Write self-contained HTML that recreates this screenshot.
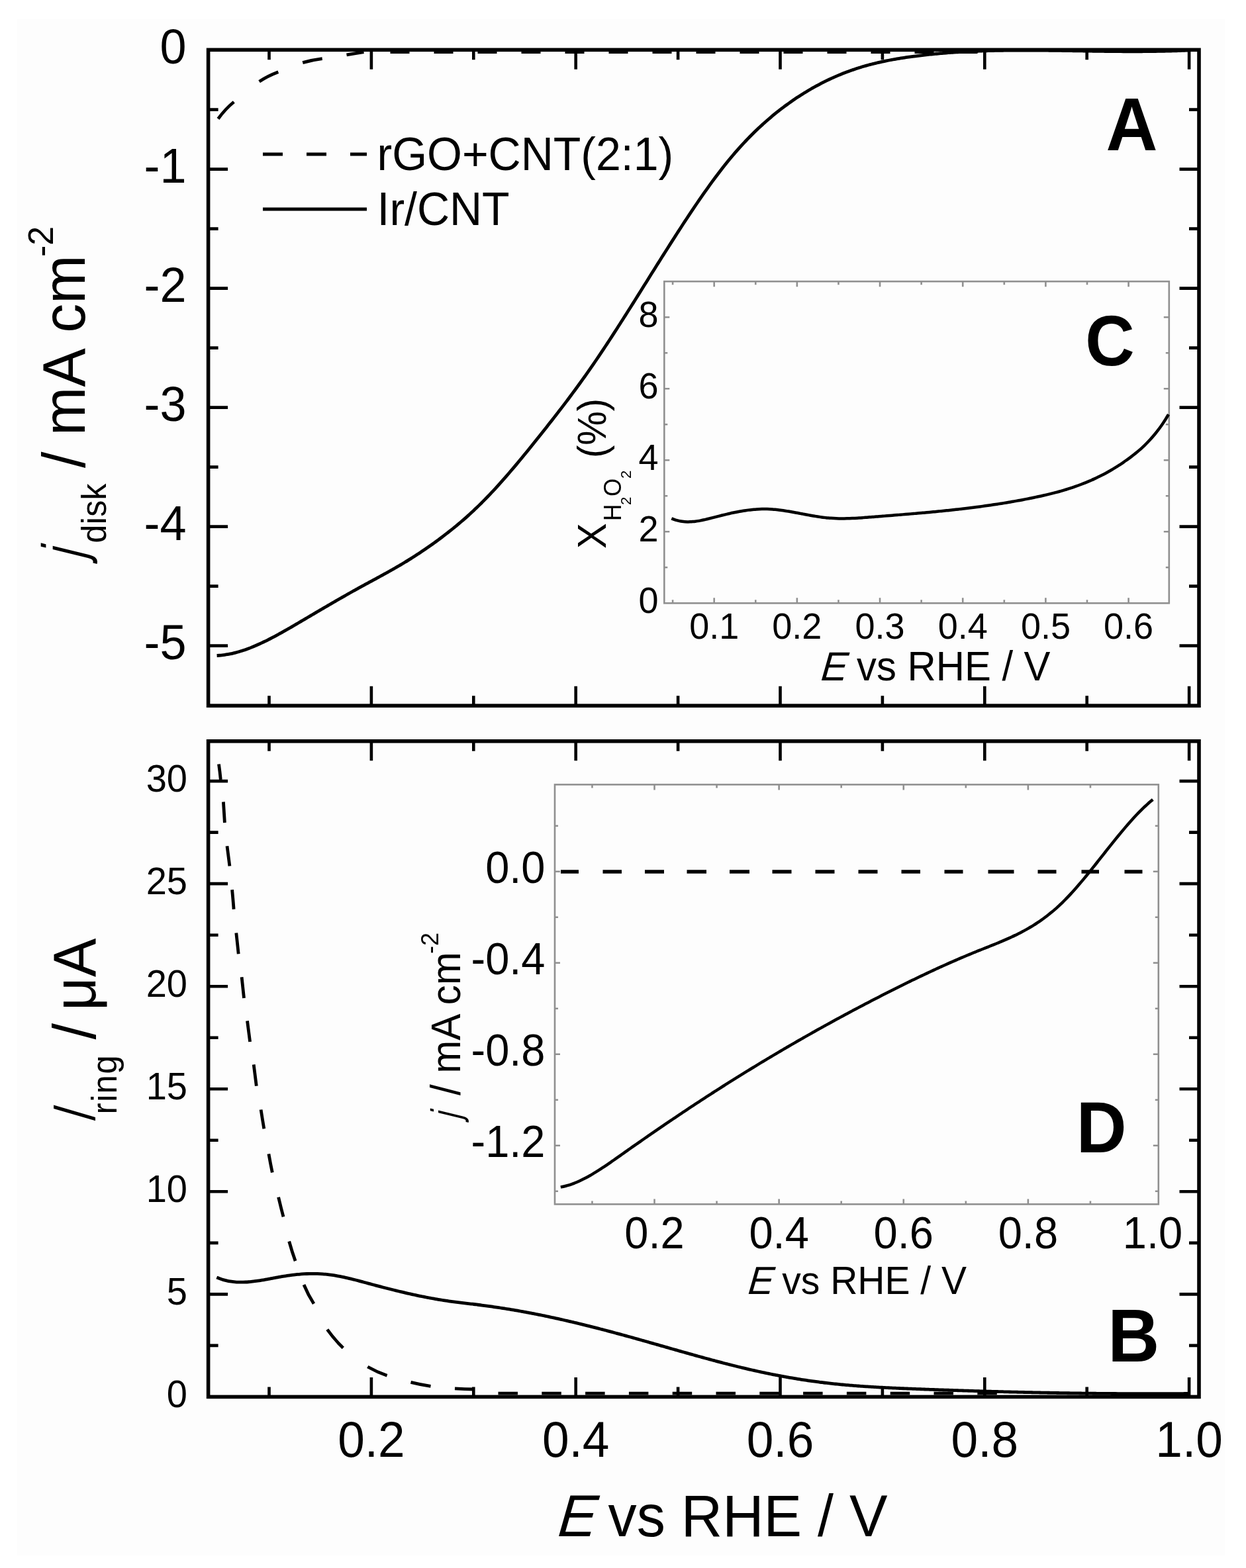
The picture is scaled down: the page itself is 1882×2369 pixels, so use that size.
<!DOCTYPE html>
<html><head><meta charset="utf-8"><title>Figure</title>
<style>
html,body{margin:0;padding:0;background:#fff;}
svg{display:block;}
text{font-family:'Liberation Sans', Arial, sans-serif;fill:#000;}
</style></head>
<body>
<svg xmlns="http://www.w3.org/2000/svg" width="1882" height="2369" viewBox="0 0 1882 2369">
<rect x="0" y="0" width="1882" height="2369" fill="#fff"/>
<rect x="26" y="29" width="1824" height="2321" fill="#fdfdfd"/>
<path d="M406.5,1066.2v-15M406.5,75.3v15M560.9,1066.2v-29.5M560.9,75.3v29.5M715.3,1066.2v-15M715.3,75.3v15M869.7,1066.2v-29.5M869.7,75.3v29.5M1024.1,1066.2v-15M1024.1,75.3v15M1178.5,1066.2v-29.5M1178.5,75.3v29.5M1332.9,1066.2v-15M1332.9,75.3v15M1487.3,1066.2v-29.5M1487.3,75.3v29.5M1641.7,1066.2v-15M1641.7,75.3v15M1796.1,1066.2v-29.5M1796.1,75.3v29.5M314.6,75.6h29.5M1811,75.6h-29.5M314.6,255.6h29.5M1811,255.6h-29.5M314.6,435.6h29.5M1811,435.6h-29.5M314.6,615.6h29.5M1811,615.6h-29.5M314.6,795.6h29.5M1811,795.6h-29.5M314.6,975.6h29.5M1811,975.6h-29.5M314.6,165.6h15M1811,165.6h-15M314.6,345.6h15M1811,345.6h-15M314.6,525.6h15M1811,525.6h-15M314.6,705.6h15M1811,705.6h-15M314.6,885.6h15M1811,885.6h-15" stroke="#000" stroke-width="4.6" fill="none"/>
<rect x="314.6" y="75.3" width="1496.4" height="990.9" fill="none" stroke="#000" stroke-width="5.6" stroke-linejoin="miter"/>
<path d="M406.5,2110.4v-15M406.5,1119.8v15M560.9,2110.4v-29.5M560.9,1119.8v29.5M715.3,2110.4v-15M715.3,1119.8v15M869.7,2110.4v-29.5M869.7,1119.8v29.5M1024.1,2110.4v-15M1024.1,1119.8v15M1178.5,2110.4v-29.5M1178.5,1119.8v29.5M1332.9,2110.4v-15M1332.9,1119.8v15M1487.3,2110.4v-29.5M1487.3,1119.8v29.5M1641.7,2110.4v-15M1641.7,1119.8v15M1796.1,2110.4v-29.5M1796.1,1119.8v29.5M314.6,1955.35h29.5M1811,1955.35h-29.5M314.6,1800.3h29.5M1811,1800.3h-29.5M314.6,1645.25h29.5M1811,1645.25h-29.5M314.6,1490.2h29.5M1811,1490.2h-29.5M314.6,1335.15h29.5M1811,1335.15h-29.5M314.6,1180.1h29.5M1811,1180.1h-29.5M314.6,2032.88h15M1811,2032.88h-15M314.6,1877.83h15M1811,1877.83h-15M314.6,1722.78h15M1811,1722.78h-15M314.6,1567.72h15M1811,1567.72h-15M314.6,1412.68h15M1811,1412.68h-15M314.6,1257.62h15M1811,1257.62h-15" stroke="#000" stroke-width="4.6" fill="none"/>
<rect x="314.6" y="1119.8" width="1496.4" height="990.6" fill="none" stroke="#000" stroke-width="5.6" stroke-linejoin="miter"/>
<rect x="1003.3" y="425.2" width="762.5" height="486.1" fill="#fdfdfd" stroke="#909090" stroke-width="2.6"/>
<path d="M1016.09,911.3v-5M1016.09,425.2v5M1078.68,911.3v-8M1078.68,425.2v8M1141.27,911.3v-5M1141.27,425.2v5M1203.86,911.3v-8M1203.86,425.2v8M1266.45,911.3v-5M1266.45,425.2v5M1329.04,911.3v-8M1329.04,425.2v8M1391.63,911.3v-5M1391.63,425.2v5M1454.22,911.3v-8M1454.22,425.2v8M1516.81,911.3v-5M1516.81,425.2v5M1579.4,911.3v-8M1579.4,425.2v8M1641.99,911.3v-5M1641.99,425.2v5M1704.58,911.3v-8M1704.58,425.2v8M1003.3,857.3h5M1765.8,857.3h-5M1003.3,803.3h8M1765.8,803.3h-8M1003.3,749.3h5M1765.8,749.3h-5M1003.3,695.3h8M1765.8,695.3h-8M1003.3,641.3h5M1765.8,641.3h-5M1003.3,587.3h8M1765.8,587.3h-8M1003.3,533.3h5M1765.8,533.3h-5M1003.3,479.3h8M1765.8,479.3h-8" stroke="#909090" stroke-width="2.6" fill="none"/>
<rect x="838" y="1185.4" width="911.8" height="634" fill="#fdfdfd" stroke="#909090" stroke-width="2.6"/>
<path d="M894.46,1819.4v-5M894.46,1185.4v5M988.52,1819.4v-8M988.52,1185.4v8M1082.58,1819.4v-5M1082.58,1185.4v5M1176.64,1819.4v-8M1176.64,1185.4v8M1270.7,1819.4v-5M1270.7,1185.4v5M1364.76,1819.4v-8M1364.76,1185.4v8M1458.82,1819.4v-5M1458.82,1185.4v5M1552.88,1819.4v-8M1552.88,1185.4v8M1646.94,1819.4v-5M1646.94,1185.4v5M838,1799.8h5M1749.8,1799.8h-5M838,1730.8h8M1749.8,1730.8h-8M838,1661.8h5M1749.8,1661.8h-5M838,1592.8h8M1749.8,1592.8h-8M838,1523.8h5M1749.8,1523.8h-5M838,1454.8h8M1749.8,1454.8h-8M838,1385.8h5M1749.8,1385.8h-5M838,1316.8h8M1749.8,1316.8h-8M838,1247.8h5M1749.8,1247.8h-5" stroke="#909090" stroke-width="2.6" fill="none"/>
<path d="M327.6,990.51 C328.27,990.47 330.27,990.36 331.6,990.25 C332.94,990.14 334.27,990.01 335.61,989.86 C336.94,989.71 338.28,989.53 339.61,989.34 C340.95,989.15 342.28,988.93 343.62,988.7 C344.95,988.47 346.28,988.21 347.62,987.94 C348.95,987.67 350.29,987.38 351.62,987.07 C352.96,986.76 354.29,986.43 355.63,986.09 C356.96,985.74 358.3,985.38 359.63,985 C360.97,984.62 362.3,984.22 363.63,983.81 C364.97,983.4 366.3,982.97 367.64,982.52 C368.97,982.08 370.31,981.62 371.64,981.15 C372.98,980.67 374.31,980.18 375.65,979.68 C376.98,979.17 378.31,978.66 379.65,978.12 C380.98,977.59 382.32,977.05 383.65,976.49 C384.99,975.93 386.32,975.36 387.66,974.78 C388.99,974.2 390.33,973.61 391.66,973 C393,972.4 394.33,971.78 395.66,971.15 C397,970.53 398.33,969.89 399.67,969.24 C401,968.59 402.34,967.94 403.67,967.27 C405.01,966.6 406.34,965.93 407.68,965.24 C409.01,964.56 410.35,963.87 411.68,963.17 C413.01,962.47 414.35,961.76 415.68,961.04 C417.02,960.33 418.35,959.61 419.69,958.88 C421.02,958.15 422.36,957.42 423.69,956.67 C425.03,955.93 426.36,955.19 427.7,954.44 C429.03,953.69 430.36,952.93 431.7,952.17 C433.03,951.41 434.37,950.64 435.7,949.88 C437.04,949.11 438.37,948.34 439.71,947.56 C441.04,946.79 442.38,946.01 443.71,945.23 C445.05,944.45 446.38,943.67 447.71,942.89 C449.05,942.11 450.38,941.32 451.72,940.54 C453.05,939.75 454.39,938.96 455.72,938.18 C457.06,937.39 458.39,936.61 459.73,935.82 C461.06,935.03 462.4,934.25 463.73,933.46 C465.06,932.67 466.4,931.89 467.73,931.1 C469.07,930.31 470.4,929.53 471.74,928.74 C473.07,927.96 474.41,927.17 475.74,926.39 C477.08,925.6 478.41,924.82 479.74,924.03 C481.08,923.25 482.41,922.46 483.75,921.68 C485.08,920.9 486.42,920.11 487.75,919.33 C489.09,918.55 490.42,917.77 491.76,916.99 C493.09,916.21 494.43,915.43 495.76,914.65 C497.09,913.88 498.43,913.1 499.76,912.32 C501.1,911.55 502.43,910.77 503.77,910 C505.1,909.23 506.44,908.46 507.77,907.69 C509.11,906.92 510.44,906.15 511.78,905.38 C513.11,904.61 514.44,903.85 515.78,903.09 C517.11,902.32 518.45,901.56 519.78,900.8 C521.12,900.04 522.45,899.28 523.79,898.53 C525.12,897.77 526.46,897.02 527.79,896.26 C529.13,895.51 530.46,894.76 531.79,894.02 C533.13,893.27 534.46,892.52 535.8,891.78 C537.13,891.04 538.47,890.3 539.8,889.56 C541.14,888.82 542.47,888.09 543.81,887.36 C545.14,886.62 546.48,885.89 547.81,885.16 C549.14,884.43 550.48,883.71 551.81,882.98 C553.15,882.25 554.48,881.53 555.82,880.8 C557.15,880.08 558.49,879.35 559.82,878.63 C561.16,877.9 562.49,877.18 563.83,876.46 C565.16,875.73 566.49,875.01 567.83,874.28 C569.16,873.55 570.5,872.83 571.83,872.1 C573.17,871.37 574.5,870.64 575.84,869.91 C577.17,869.18 578.51,868.44 579.84,867.71 C581.17,866.97 582.51,866.23 583.84,865.49 C585.18,864.75 586.51,864 587.85,863.25 C589.18,862.5 590.52,861.75 591.85,861 C593.19,860.24 594.52,859.48 595.86,858.72 C597.19,857.95 598.52,857.18 599.86,856.41 C601.19,855.63 602.53,854.85 603.86,854.07 C605.2,853.29 606.53,852.5 607.87,851.7 C609.2,850.9 610.54,850.1 611.87,849.29 C613.21,848.48 614.54,847.67 615.87,846.84 C617.21,846.02 618.54,845.19 619.88,844.36 C621.21,843.52 622.55,842.68 623.88,841.83 C625.22,840.99 626.55,840.13 627.89,839.27 C629.22,838.41 630.56,837.54 631.89,836.66 C633.22,835.79 634.56,834.91 635.89,834.02 C637.23,833.13 638.56,832.23 639.9,831.33 C641.23,830.42 642.57,829.51 643.9,828.59 C645.24,827.67 646.57,826.75 647.91,825.82 C649.24,824.88 650.57,823.94 651.91,823 C653.24,822.05 654.58,821.09 655.91,820.13 C657.25,819.17 658.58,818.2 659.92,817.22 C661.25,816.24 662.59,815.25 663.92,814.26 C665.26,813.27 666.59,812.26 667.92,811.25 C669.26,810.24 670.59,809.23 671.93,808.2 C673.26,807.18 674.6,806.14 675.93,805.1 C677.27,804.06 678.6,803.01 679.94,801.95 C681.27,800.89 682.6,799.82 683.94,798.75 C685.27,797.67 686.61,796.58 687.94,795.49 C689.28,794.39 690.61,793.29 691.95,792.17 C693.28,791.05 694.62,789.93 695.95,788.79 C697.29,787.65 698.62,786.51 699.95,785.35 C701.29,784.19 702.62,783.01 703.96,781.83 C705.29,780.65 706.63,779.45 707.96,778.24 C709.3,777.04 710.63,775.81 711.97,774.58 C713.3,773.35 714.64,772.1 715.97,770.84 C717.3,769.58 718.64,768.31 719.97,767.02 C721.31,765.74 722.64,764.44 723.98,763.13 C725.31,761.82 726.65,760.5 727.98,759.17 C729.32,757.83 730.65,756.49 731.99,755.13 C733.32,753.77 734.65,752.4 735.99,751.02 C737.32,749.64 738.66,748.24 739.99,746.83 C741.33,745.43 742.66,744.01 744,742.58 C745.33,741.15 746.67,739.71 748,738.26 C749.34,736.81 750.67,735.35 752,733.87 C753.34,732.4 754.67,730.92 756.01,729.42 C757.34,727.93 758.68,726.43 760.01,724.91 C761.35,723.4 762.68,721.88 764.02,720.35 C765.35,718.82 766.69,717.28 768.02,715.73 C769.35,714.18 770.69,712.63 772.02,711.06 C773.36,709.5 774.69,707.93 776.03,706.35 C777.36,704.77 778.7,703.18 780.03,701.59 C781.37,700 782.7,698.39 784.03,696.79 C785.37,695.18 786.7,693.57 788.04,691.95 C789.37,690.33 790.71,688.71 792.04,687.08 C793.38,685.45 794.71,683.81 796.05,682.17 C797.38,680.53 798.72,678.89 800.05,677.24 C801.38,675.59 802.72,673.94 804.05,672.28 C805.39,670.62 806.72,668.96 808.06,667.3 C809.39,665.63 810.73,663.96 812.06,662.29 C813.4,660.62 814.73,658.95 816.07,657.27 C817.4,655.6 818.73,653.92 820.07,652.24 C821.4,650.56 822.74,648.87 824.07,647.19 C825.41,645.5 826.74,643.81 828.08,642.11 C829.41,640.42 830.75,638.72 832.08,637.02 C833.42,635.32 834.75,633.61 836.08,631.9 C837.42,630.19 838.75,628.47 840.09,626.75 C841.42,625.03 842.76,623.3 844.09,621.57 C845.43,619.84 846.76,618.1 848.1,616.36 C849.43,614.62 850.77,612.87 852.1,611.11 C853.43,609.36 854.77,607.6 856.1,605.83 C857.44,604.06 858.77,602.29 860.11,600.5 C861.44,598.72 862.78,596.93 864.11,595.14 C865.45,593.34 866.78,591.54 868.11,589.72 C869.45,587.91 870.78,586.09 872.12,584.26 C873.45,582.44 874.79,580.6 876.12,578.75 C877.46,576.91 878.79,575.05 880.13,573.19 C881.46,571.33 882.8,569.45 884.13,567.57 C885.46,565.69 886.8,563.8 888.13,561.89 C889.47,559.99 890.8,558.08 892.14,556.16 C893.47,554.23 894.81,552.3 896.14,550.36 C897.48,548.42 898.81,546.47 900.15,544.51 C901.48,542.54 902.81,540.57 904.15,538.6 C905.48,536.62 906.82,534.63 908.15,532.63 C909.49,530.64 910.82,528.64 912.16,526.62 C913.49,524.61 914.83,522.59 916.16,520.57 C917.5,518.54 918.83,516.51 920.16,514.47 C921.5,512.43 922.83,510.38 924.17,508.33 C925.5,506.28 926.84,504.22 928.17,502.15 C929.51,500.09 930.84,498.02 932.18,495.94 C933.51,493.86 934.85,491.78 936.18,489.7 C937.51,487.61 938.85,485.52 940.18,483.43 C941.52,481.33 942.85,479.23 944.19,477.13 C945.52,475.02 946.86,472.92 948.19,470.81 C949.53,468.7 950.86,466.58 952.2,464.46 C953.53,462.35 954.86,460.23 956.2,458.11 C957.53,455.98 958.87,453.86 960.2,451.73 C961.54,449.61 962.87,447.48 964.21,445.35 C965.54,443.22 966.88,441.09 968.21,438.95 C969.54,436.82 970.88,434.69 972.21,432.55 C973.55,430.42 974.88,428.29 976.22,426.15 C977.55,424.02 978.89,421.88 980.22,419.75 C981.56,417.62 982.89,415.48 984.23,413.35 C985.56,411.22 986.89,409.08 988.23,406.95 C989.56,404.82 990.9,402.7 992.23,400.57 C993.57,398.44 994.9,396.32 996.24,394.19 C997.57,392.07 998.91,389.95 1000.24,387.83 C1001.58,385.72 1002.91,383.6 1004.24,381.49 C1005.58,379.38 1006.91,377.27 1008.25,375.17 C1009.58,373.06 1010.92,370.96 1012.25,368.87 C1013.59,366.77 1014.92,364.68 1016.26,362.59 C1017.59,360.5 1018.93,358.42 1020.26,356.34 C1021.59,354.27 1022.93,352.2 1024.26,350.13 C1025.6,348.06 1026.93,346 1028.27,343.95 C1029.6,341.89 1030.94,339.85 1032.27,337.81 C1033.61,335.76 1034.94,333.73 1036.28,331.7 C1037.61,329.67 1038.94,327.65 1040.28,325.64 C1041.61,323.63 1042.95,321.63 1044.28,319.63 C1045.62,317.63 1046.95,315.65 1048.29,313.67 C1049.62,311.69 1050.96,309.72 1052.29,307.76 C1053.63,305.8 1054.96,303.86 1056.29,301.92 C1057.63,299.98 1058.96,298.05 1060.3,296.13 C1061.63,294.22 1062.97,292.31 1064.3,290.42 C1065.64,288.52 1066.97,286.64 1068.31,284.77 C1069.64,282.9 1070.97,281.04 1072.31,279.2 C1073.64,277.35 1074.98,275.52 1076.31,273.7 C1077.65,271.88 1078.98,270.08 1080.32,268.29 C1081.65,266.5 1082.99,264.72 1084.32,262.96 C1085.66,261.2 1086.99,259.45 1088.32,257.72 C1089.66,255.99 1090.99,254.28 1092.33,252.58 C1093.66,250.88 1095,249.2 1096.33,247.53 C1097.67,245.87 1099,244.22 1100.34,242.58 C1101.67,240.95 1103.01,239.34 1104.34,237.74 C1105.67,236.15 1107.01,234.57 1108.34,233.01 C1109.68,231.45 1111.01,229.9 1112.35,228.38 C1113.68,226.85 1115.02,225.34 1116.35,223.85 C1117.69,222.36 1119.02,220.89 1120.36,219.43 C1121.69,217.97 1123.02,216.53 1124.36,215.11 C1125.69,213.68 1127.03,212.28 1128.36,210.88 C1129.7,209.49 1131.03,208.12 1132.37,206.76 C1133.7,205.4 1135.04,204.05 1136.37,202.73 C1137.71,201.4 1139.04,200.09 1140.37,198.79 C1141.71,197.49 1143.04,196.21 1144.38,194.94 C1145.71,193.68 1147.05,192.43 1148.38,191.19 C1149.72,189.95 1151.05,188.73 1152.39,187.52 C1153.72,186.31 1155.06,185.12 1156.39,183.94 C1157.72,182.76 1159.06,181.6 1160.39,180.45 C1161.73,179.3 1163.06,178.16 1164.4,177.04 C1165.73,175.91 1167.07,174.8 1168.4,173.71 C1169.74,172.61 1171.07,171.52 1172.4,170.45 C1173.74,169.38 1175.07,168.33 1176.41,167.28 C1177.74,166.24 1179.08,165.21 1180.41,164.19 C1181.75,163.17 1183.08,162.16 1184.42,161.16 C1185.75,160.17 1187.09,159.19 1188.42,158.21 C1189.75,157.24 1191.09,156.28 1192.42,155.34 C1193.76,154.39 1195.09,153.45 1196.43,152.53 C1197.76,151.6 1199.1,150.69 1200.43,149.79 C1201.77,148.88 1203.1,147.99 1204.44,147.11 C1205.77,146.23 1207.1,145.36 1208.44,144.5 C1209.77,143.64 1211.11,142.79 1212.44,141.96 C1213.78,141.12 1215.11,140.29 1216.45,139.48 C1217.78,138.66 1219.12,137.86 1220.45,137.06 C1221.79,136.27 1223.12,135.48 1224.45,134.71 C1225.79,133.94 1227.12,133.17 1228.46,132.42 C1229.79,131.67 1231.13,130.93 1232.46,130.19 C1233.8,129.46 1235.13,128.74 1236.47,128.03 C1237.8,127.32 1239.14,126.62 1240.47,125.93 C1241.8,125.24 1243.14,124.56 1244.47,123.89 C1245.81,123.22 1247.14,122.56 1248.48,121.91 C1249.81,121.26 1251.15,120.62 1252.48,119.99 C1253.82,119.36 1255.15,118.74 1256.49,118.13 C1257.82,117.52 1259.15,116.92 1260.49,116.33 C1261.82,115.74 1263.16,115.16 1264.49,114.59 C1265.83,114.02 1267.16,113.46 1268.5,112.91 C1269.83,112.36 1271.17,111.82 1272.5,111.29 C1273.83,110.75 1275.17,110.23 1276.5,109.72 C1277.84,109.21 1279.17,108.7 1280.51,108.21 C1281.84,107.72 1283.18,107.23 1284.51,106.76 C1285.85,106.28 1287.18,105.81 1288.52,105.36 C1289.85,104.9 1291.18,104.45 1292.52,104.01 C1293.85,103.57 1295.19,103.14 1296.52,102.72 C1297.86,102.3 1299.19,101.88 1300.53,101.48 C1301.86,101.07 1303.2,100.67 1304.53,100.29 C1305.87,99.9 1307.2,99.51 1308.53,99.14 C1309.87,98.77 1311.2,98.4 1312.54,98.04 C1313.87,97.68 1315.21,97.33 1316.54,96.99 C1317.88,96.64 1319.21,96.31 1320.55,95.98 C1321.88,95.65 1323.22,95.32 1324.55,95.01 C1325.88,94.69 1327.22,94.38 1328.55,94.08 C1329.89,93.78 1331.22,93.48 1332.56,93.19 C1333.89,92.9 1335.23,92.62 1336.56,92.34 C1337.9,92.06 1339.23,91.79 1340.57,91.52 C1341.9,91.26 1343.23,91 1344.57,90.74 C1345.9,90.49 1347.24,90.24 1348.57,89.99 C1349.91,89.75 1351.24,89.51 1352.58,89.28 C1353.91,89.05 1355.25,88.82 1356.58,88.59 C1357.91,88.37 1359.25,88.15 1360.58,87.94 C1361.92,87.72 1363.25,87.51 1364.59,87.31 C1365.92,87.1 1367.26,86.9 1368.59,86.7 C1369.93,86.51 1371.26,86.32 1372.6,86.13 C1373.93,85.94 1375.26,85.75 1376.6,85.57 C1377.93,85.39 1379.27,85.21 1380.6,85.04 C1381.94,84.86 1383.27,84.69 1384.61,84.52 C1385.94,84.36 1387.28,84.19 1388.61,84.03 C1389.95,83.87 1391.28,83.71 1392.61,83.55 C1393.95,83.4 1395.28,83.24 1396.62,83.09 C1397.95,82.94 1399.29,82.8 1400.62,82.65 C1401.96,82.51 1403.29,82.37 1404.63,82.23 C1405.96,82.09 1407.3,81.96 1408.63,81.82 C1409.96,81.69 1411.3,81.56 1412.63,81.43 C1413.97,81.31 1415.3,81.18 1416.64,81.06 C1417.97,80.94 1419.31,80.82 1420.64,80.7 C1421.98,80.59 1423.31,80.47 1424.65,80.36 C1425.98,80.25 1427.31,80.14 1428.65,80.04 C1429.98,79.93 1431.32,79.83 1432.65,79.73 C1433.99,79.63 1435.32,79.53 1436.66,79.43 C1437.99,79.34 1439.33,79.24 1440.66,79.15 C1442,79.06 1443.33,78.97 1444.66,78.88 C1446,78.8 1447.33,78.71 1448.67,78.63 C1450,78.55 1451.34,78.47 1452.67,78.39 C1454.01,78.32 1455.34,78.24 1456.68,78.17 C1458.01,78.1 1459.34,78.03 1460.68,77.96 C1462.01,77.89 1463.35,77.82 1464.68,77.76 C1466.02,77.69 1467.35,77.63 1468.69,77.57 C1470.02,77.51 1471.36,77.45 1472.69,77.4 C1474.03,77.34 1475.36,77.29 1476.69,77.23 C1478.03,77.18 1479.36,77.13 1480.7,77.08 C1482.03,77.04 1483.37,76.99 1484.7,76.94 C1486.04,76.9 1487.37,76.86 1488.71,76.82 C1490.04,76.77 1491.38,76.73 1492.71,76.7 C1494.04,76.66 1495.38,76.62 1496.71,76.59 C1498.05,76.56 1499.38,76.52 1500.72,76.49 C1502.05,76.46 1503.39,76.43 1504.72,76.4 C1506.06,76.38 1507.39,76.35 1508.73,76.33 C1510.06,76.3 1511.39,76.28 1512.73,76.26 C1514.06,76.24 1515.4,76.22 1516.73,76.2 C1518.07,76.18 1519.4,76.16 1520.74,76.15 C1522.07,76.13 1523.41,76.12 1524.74,76.1 C1526.08,76.09 1527.41,76.08 1528.74,76.07 C1530.08,76.06 1531.41,76.05 1532.75,76.04 C1534.08,76.03 1535.42,76.02 1536.75,76.02 C1538.09,76.01 1539.42,76.01 1540.76,76.01 C1542.09,76 1543.43,76 1544.76,76 C1546.09,76 1547.43,76 1548.76,76 C1550.1,76 1551.43,76 1552.77,76 C1554.1,76.01 1555.44,76.01 1556.77,76.02 C1558.11,76.02 1559.44,76.03 1560.77,76.03 C1562.11,76.04 1563.44,76.05 1564.78,76.06 C1566.11,76.06 1567.45,76.07 1568.78,76.08 C1570.12,76.09 1571.45,76.1 1572.79,76.12 C1574.12,76.13 1575.46,76.14 1576.79,76.15 C1578.12,76.16 1579.46,76.18 1580.79,76.19 C1582.13,76.21 1583.46,76.22 1584.8,76.24 C1586.13,76.25 1587.47,76.27 1588.8,76.28 C1590.14,76.3 1591.47,76.32 1592.81,76.33 C1594.14,76.35 1595.47,76.37 1596.81,76.39 C1598.14,76.41 1599.48,76.42 1600.81,76.44 C1602.15,76.46 1603.48,76.48 1604.82,76.5 C1606.15,76.52 1607.49,76.54 1608.82,76.56 C1610.16,76.58 1611.49,76.6 1612.82,76.62 C1614.16,76.64 1615.49,76.66 1616.83,76.69 C1618.16,76.71 1619.5,76.73 1620.83,76.75 C1622.17,76.77 1623.5,76.79 1624.84,76.81 C1626.17,76.83 1627.51,76.86 1628.84,76.88 C1630.17,76.9 1631.51,76.92 1632.84,76.94 C1634.18,76.96 1635.51,76.99 1636.85,77.01 C1638.18,77.03 1639.52,77.05 1640.85,77.07 C1642.19,77.09 1643.52,77.11 1644.86,77.13 C1646.19,77.15 1647.52,77.17 1648.86,77.19 C1650.19,77.22 1651.53,77.24 1652.86,77.26 C1654.2,77.27 1655.53,77.29 1656.87,77.31 C1658.2,77.33 1659.54,77.35 1660.87,77.37 C1662.2,77.39 1663.54,77.41 1664.87,77.42 C1666.21,77.44 1667.54,77.46 1668.88,77.48 C1670.21,77.49 1671.55,77.51 1672.88,77.52 C1674.22,77.54 1675.55,77.55 1676.89,77.57 C1678.22,77.58 1679.55,77.6 1680.89,77.61 C1682.22,77.62 1683.56,77.64 1684.89,77.65 C1686.23,77.66 1687.56,77.67 1688.9,77.68 C1690.23,77.69 1691.57,77.7 1692.9,77.71 C1694.24,77.72 1695.57,77.73 1696.9,77.73 C1698.24,77.74 1699.57,77.75 1700.91,77.75 C1702.24,77.76 1703.58,77.76 1704.91,77.77 C1706.25,77.77 1707.58,77.77 1708.92,77.77 C1710.25,77.77 1711.59,77.78 1712.92,77.77 C1714.25,77.77 1715.59,77.77 1716.92,77.77 C1718.26,77.77 1719.59,77.76 1720.93,77.76 C1722.26,77.75 1723.6,77.75 1724.93,77.74 C1726.27,77.73 1727.6,77.72 1728.94,77.71 C1730.27,77.7 1731.6,77.69 1732.94,77.68 C1734.27,77.67 1735.61,77.66 1736.94,77.64 C1738.28,77.63 1739.61,77.61 1740.95,77.59 C1742.28,77.57 1743.62,77.55 1744.95,77.53 C1746.29,77.51 1747.62,77.49 1748.95,77.47 C1750.29,77.44 1751.62,77.42 1752.96,77.39 C1754.29,77.36 1755.63,77.34 1756.96,77.31 C1758.3,77.28 1759.63,77.24 1760.97,77.21 C1762.3,77.18 1763.63,77.14 1764.97,77.11 C1766.3,77.07 1767.64,77.03 1768.97,76.99 C1770.31,76.95 1771.64,76.91 1772.98,76.87 C1774.31,76.82 1775.65,76.78 1776.98,76.73 C1778.32,76.68 1779.65,76.63 1780.98,76.58 C1782.32,76.53 1783.65,76.48 1784.99,76.42 C1786.32,76.37 1787.66,76.31 1788.99,76.25 C1790.33,76.19 1791.66,76.13 1793,76.07 C1794.33,76.01 1796.33,75.91 1797,75.87" stroke="#000" stroke-width="4.8" fill="none" stroke-linejoin="round"/>
<path d="M329.5,179.5Q340.6,164.25 353.3,154M391.6,123.3Q404.05,114.95 420.3,108.8M457.2,94.6Q472.05,90.4 486.7,88.6M523.5,82.8Q537.5,80.3 549.5,78.6M589.5,78.5L618.5,78.5M655.5,78.5L684.5,78.5M721.5,78.5L750.5,78.5M787.5,78.5L816.5,78.5M853.5,78.5L882.5,78.5M919.5,78.5L948.5,78.5M985.5,78.5L1014.5,78.5M1051.5,78.5L1080.5,78.5M1117.5,78.5L1146.5,78.5M1183.5,78.5L1212.5,78.5M1249.5,78.5L1278.5,78.5M1315.5,78.5L1344.5,78.5M1381.5,78.5L1410.5,78.5M1447.5,78.5L1476.5,78.5" stroke="#000" stroke-width="4.8" fill="none"/>
<path d="M327.3,1929.94 C327.97,1930.21 329.97,1931.05 331.3,1931.56 C332.64,1932.06 333.97,1932.52 335.31,1932.94 C336.64,1933.37 337.98,1933.76 339.31,1934.11 C340.65,1934.47 341.98,1934.79 343.32,1935.07 C344.65,1935.36 345.99,1935.62 347.32,1935.84 C348.66,1936.06 349.99,1936.26 351.33,1936.42 C352.66,1936.59 354,1936.72 355.33,1936.83 C356.67,1936.95 358,1937.03 359.34,1937.09 C360.67,1937.15 362.01,1937.18 363.34,1937.19 C364.68,1937.21 366.01,1937.2 367.35,1937.17 C368.68,1937.14 370.02,1937.09 371.35,1937.02 C372.69,1936.95 374.02,1936.86 375.36,1936.76 C376.69,1936.66 378.03,1936.54 379.36,1936.4 C380.7,1936.27 382.03,1936.12 383.36,1935.96 C384.7,1935.8 386.03,1935.62 387.37,1935.44 C388.7,1935.26 390.04,1935.06 391.37,1934.86 C392.71,1934.65 394.04,1934.44 395.38,1934.22 C396.71,1934 398.05,1933.77 399.38,1933.53 C400.72,1933.3 402.05,1933.06 403.39,1932.82 C404.72,1932.58 406.06,1932.33 407.39,1932.08 C408.73,1931.83 410.06,1931.58 411.4,1931.33 C412.73,1931.08 414.07,1930.83 415.4,1930.58 C416.74,1930.33 418.07,1930.08 419.41,1929.83 C420.74,1929.59 422.08,1929.35 423.41,1929.11 C424.75,1928.88 426.08,1928.64 427.42,1928.42 C428.75,1928.2 430.09,1927.98 431.42,1927.77 C432.76,1927.56 434.09,1927.36 435.43,1927.16 C436.76,1926.97 438.09,1926.79 439.43,1926.61 C440.76,1926.43 442.1,1926.27 443.43,1926.11 C444.77,1925.95 446.1,1925.8 447.44,1925.66 C448.77,1925.52 450.11,1925.39 451.44,1925.27 C452.78,1925.15 454.11,1925.04 455.45,1924.94 C456.78,1924.84 458.12,1924.75 459.45,1924.68 C460.79,1924.6 462.12,1924.53 463.46,1924.48 C464.79,1924.42 466.13,1924.38 467.46,1924.35 C468.8,1924.32 470.13,1924.3 471.47,1924.29 C472.8,1924.28 474.14,1924.29 475.47,1924.3 C476.81,1924.32 478.14,1924.35 479.48,1924.4 C480.81,1924.44 482.15,1924.5 483.48,1924.57 C484.82,1924.64 486.15,1924.73 487.49,1924.83 C488.82,1924.93 490.16,1925.04 491.49,1925.17 C492.82,1925.3 494.16,1925.44 495.49,1925.6 C496.83,1925.76 498.16,1925.93 499.5,1926.11 C500.83,1926.29 502.17,1926.49 503.5,1926.7 C504.84,1926.91 506.17,1927.13 507.51,1927.36 C508.84,1927.59 510.18,1927.83 511.51,1928.08 C512.85,1928.34 514.18,1928.6 515.52,1928.87 C516.85,1929.14 518.19,1929.42 519.52,1929.71 C520.86,1930 522.19,1930.3 523.53,1930.6 C524.86,1930.91 526.2,1931.22 527.53,1931.54 C528.87,1931.85 530.2,1932.18 531.54,1932.51 C532.87,1932.84 534.21,1933.17 535.54,1933.51 C536.88,1933.85 538.21,1934.2 539.55,1934.54 C540.88,1934.89 542.22,1935.24 543.55,1935.6 C544.89,1935.95 546.22,1936.31 547.55,1936.66 C548.89,1937.02 550.22,1937.38 551.56,1937.74 C552.89,1938.1 554.23,1938.47 555.56,1938.83 C556.9,1939.19 558.23,1939.55 559.57,1939.91 C560.9,1940.27 562.24,1940.63 563.57,1940.99 C564.91,1941.35 566.24,1941.7 567.58,1942.06 C568.91,1942.41 570.25,1942.77 571.58,1943.12 C572.92,1943.47 574.25,1943.82 575.59,1944.17 C576.92,1944.52 578.26,1944.87 579.59,1945.22 C580.93,1945.56 582.26,1945.91 583.6,1946.25 C584.93,1946.59 586.27,1946.93 587.6,1947.27 C588.94,1947.61 590.27,1947.94 591.61,1948.28 C592.94,1948.61 594.28,1948.95 595.61,1949.28 C596.95,1949.61 598.28,1949.93 599.61,1950.26 C600.95,1950.58 602.28,1950.91 603.62,1951.23 C604.95,1951.55 606.29,1951.87 607.62,1952.18 C608.96,1952.5 610.29,1952.81 611.63,1953.12 C612.96,1953.43 614.3,1953.74 615.63,1954.05 C616.97,1954.35 618.3,1954.65 619.64,1954.95 C620.97,1955.25 622.31,1955.55 623.64,1955.84 C624.98,1956.13 626.31,1956.42 627.65,1956.71 C628.98,1957 630.32,1957.28 631.65,1957.56 C632.99,1957.84 634.32,1958.12 635.66,1958.39 C636.99,1958.67 638.33,1958.94 639.66,1959.21 C641,1959.47 642.33,1959.74 643.67,1959.99 C645,1960.25 646.34,1960.51 647.67,1960.76 C649.01,1961.01 650.34,1961.26 651.68,1961.51 C653.01,1961.75 654.34,1961.99 655.68,1962.23 C657.01,1962.47 658.35,1962.7 659.68,1962.93 C661.02,1963.16 662.35,1963.38 663.69,1963.6 C665.02,1963.82 666.36,1964.04 667.69,1964.25 C669.03,1964.46 670.36,1964.67 671.7,1964.87 C673.03,1965.07 674.37,1965.27 675.7,1965.46 C677.04,1965.66 678.37,1965.84 679.71,1966.03 C681.04,1966.21 682.38,1966.39 683.71,1966.57 C685.05,1966.75 686.38,1966.92 687.72,1967.09 C689.05,1967.26 690.39,1967.43 691.72,1967.6 C693.06,1967.76 694.39,1967.93 695.73,1968.09 C697.06,1968.25 698.4,1968.41 699.73,1968.57 C701.07,1968.73 702.4,1968.89 703.74,1969.05 C705.07,1969.21 706.41,1969.37 707.74,1969.53 C709.07,1969.69 710.41,1969.85 711.74,1970.01 C713.08,1970.17 714.41,1970.33 715.75,1970.5 C717.08,1970.66 718.42,1970.82 719.75,1970.99 C721.09,1971.16 722.42,1971.33 723.76,1971.5 C725.09,1971.67 726.43,1971.84 727.76,1972.01 C729.1,1972.19 730.43,1972.37 731.77,1972.55 C733.1,1972.72 734.44,1972.91 735.77,1973.09 C737.11,1973.27 738.44,1973.46 739.78,1973.65 C741.11,1973.83 742.45,1974.02 743.78,1974.21 C745.12,1974.41 746.45,1974.6 747.79,1974.8 C749.12,1974.99 750.46,1975.19 751.79,1975.39 C753.13,1975.59 754.46,1975.79 755.8,1976 C757.13,1976.2 758.47,1976.41 759.8,1976.62 C761.14,1976.83 762.47,1977.04 763.8,1977.25 C765.14,1977.46 766.47,1977.68 767.81,1977.9 C769.14,1978.12 770.48,1978.34 771.81,1978.56 C773.15,1978.78 774.48,1979 775.82,1979.23 C777.15,1979.46 778.49,1979.69 779.82,1979.92 C781.16,1980.15 782.49,1980.38 783.83,1980.62 C785.16,1980.85 786.5,1981.09 787.83,1981.33 C789.17,1981.57 790.5,1981.81 791.84,1982.06 C793.17,1982.3 794.51,1982.55 795.84,1982.8 C797.18,1983.05 798.51,1983.3 799.85,1983.55 C801.18,1983.81 802.52,1984.06 803.85,1984.32 C805.19,1984.58 806.52,1984.84 807.86,1985.1 C809.19,1985.36 810.53,1985.63 811.86,1985.89 C813.2,1986.16 814.53,1986.43 815.87,1986.7 C817.2,1986.97 818.53,1987.24 819.87,1987.52 C821.2,1987.79 822.54,1988.07 823.87,1988.35 C825.21,1988.63 826.54,1988.91 827.88,1989.19 C829.21,1989.47 830.55,1989.76 831.88,1990.04 C833.22,1990.33 834.55,1990.62 835.89,1990.91 C837.22,1991.2 838.56,1991.49 839.89,1991.79 C841.23,1992.08 842.56,1992.37 843.9,1992.67 C845.23,1992.97 846.57,1993.27 847.9,1993.57 C849.24,1993.87 850.57,1994.18 851.91,1994.48 C853.24,1994.78 854.58,1995.09 855.91,1995.4 C857.25,1995.71 858.58,1996.02 859.92,1996.33 C861.25,1996.64 862.59,1996.95 863.92,1997.27 C865.26,1997.58 866.59,1997.9 867.93,1998.22 C869.26,1998.54 870.6,1998.86 871.93,1999.18 C873.26,1999.5 874.6,1999.82 875.93,2000.15 C877.27,2000.47 878.6,2000.8 879.94,2001.12 C881.27,2001.45 882.61,2001.78 883.94,2002.11 C885.28,2002.44 886.61,2002.77 887.95,2003.11 C889.28,2003.44 890.62,2003.77 891.95,2004.11 C893.29,2004.45 894.62,2004.78 895.96,2005.12 C897.29,2005.46 898.63,2005.8 899.96,2006.14 C901.3,2006.48 902.63,2006.83 903.97,2007.17 C905.3,2007.51 906.64,2007.86 907.97,2008.21 C909.31,2008.55 910.64,2008.9 911.98,2009.25 C913.31,2009.6 914.65,2009.95 915.98,2010.3 C917.32,2010.65 918.65,2011.01 919.99,2011.36 C921.32,2011.71 922.66,2012.07 923.99,2012.42 C925.33,2012.78 926.66,2013.14 927.99,2013.5 C929.33,2013.85 930.66,2014.21 932,2014.57 C933.33,2014.93 934.67,2015.3 936,2015.66 C937.34,2016.02 938.67,2016.38 940.01,2016.75 C941.34,2017.11 942.68,2017.48 944.01,2017.84 C945.35,2018.21 946.68,2018.58 948.02,2018.95 C949.35,2019.32 950.69,2019.68 952.02,2020.05 C953.36,2020.42 954.69,2020.79 956.03,2021.17 C957.36,2021.54 958.7,2021.91 960.03,2022.28 C961.37,2022.66 962.7,2023.03 964.04,2023.41 C965.37,2023.78 966.71,2024.16 968.04,2024.53 C969.38,2024.91 970.71,2025.29 972.05,2025.66 C973.38,2026.04 974.72,2026.42 976.05,2026.8 C977.39,2027.17 978.72,2027.55 980.06,2027.93 C981.39,2028.31 982.72,2028.69 984.06,2029.07 C985.39,2029.45 986.73,2029.83 988.06,2030.21 C989.4,2030.59 990.73,2030.97 992.07,2031.35 C993.4,2031.73 994.74,2032.12 996.07,2032.5 C997.41,2032.88 998.74,2033.26 1000.08,2033.64 C1001.41,2034.02 1002.75,2034.4 1004.08,2034.79 C1005.42,2035.17 1006.75,2035.55 1008.09,2035.93 C1009.42,2036.31 1010.76,2036.69 1012.09,2037.07 C1013.43,2037.46 1014.76,2037.84 1016.1,2038.22 C1017.43,2038.6 1018.77,2038.98 1020.1,2039.36 C1021.44,2039.74 1022.77,2040.12 1024.11,2040.5 C1025.44,2040.88 1026.78,2041.26 1028.11,2041.64 C1029.45,2042.02 1030.78,2042.39 1032.12,2042.77 C1033.45,2043.15 1034.79,2043.53 1036.12,2043.9 C1037.45,2044.28 1038.79,2044.66 1040.12,2045.03 C1041.46,2045.41 1042.79,2045.78 1044.13,2046.16 C1045.46,2046.53 1046.8,2046.9 1048.13,2047.28 C1049.47,2047.65 1050.8,2048.02 1052.14,2048.39 C1053.47,2048.76 1054.81,2049.13 1056.14,2049.5 C1057.48,2049.87 1058.81,2050.24 1060.15,2050.61 C1061.48,2050.98 1062.82,2051.34 1064.15,2051.71 C1065.49,2052.07 1066.82,2052.44 1068.16,2052.8 C1069.49,2053.16 1070.83,2053.52 1072.16,2053.89 C1073.5,2054.25 1074.83,2054.61 1076.17,2054.96 C1077.5,2055.32 1078.84,2055.68 1080.17,2056.03 C1081.51,2056.39 1082.84,2056.74 1084.18,2057.1 C1085.51,2057.45 1086.85,2057.8 1088.18,2058.15 C1089.51,2058.5 1090.85,2058.85 1092.18,2059.2 C1093.52,2059.54 1094.85,2059.89 1096.19,2060.23 C1097.52,2060.58 1098.86,2060.92 1100.19,2061.26 C1101.53,2061.6 1102.86,2061.94 1104.2,2062.27 C1105.53,2062.61 1106.87,2062.94 1108.2,2063.28 C1109.54,2063.61 1110.87,2063.94 1112.21,2064.27 C1113.54,2064.6 1114.88,2064.93 1116.21,2065.25 C1117.55,2065.58 1118.88,2065.9 1120.22,2066.22 C1121.55,2066.55 1122.89,2066.86 1124.22,2067.18 C1125.56,2067.5 1126.89,2067.81 1128.23,2068.13 C1129.56,2068.44 1130.9,2068.75 1132.23,2069.06 C1133.57,2069.37 1134.9,2069.67 1136.24,2069.98 C1137.57,2070.28 1138.91,2070.58 1140.24,2070.88 C1141.58,2071.18 1142.91,2071.48 1144.24,2071.77 C1145.58,2072.07 1146.91,2072.36 1148.25,2072.65 C1149.58,2072.94 1150.92,2073.22 1152.25,2073.51 C1153.59,2073.79 1154.92,2074.07 1156.26,2074.35 C1157.59,2074.63 1158.93,2074.91 1160.26,2075.18 C1161.6,2075.46 1162.93,2075.73 1164.27,2076 C1165.6,2076.27 1166.94,2076.54 1168.27,2076.8 C1169.61,2077.06 1170.94,2077.33 1172.28,2077.59 C1173.61,2077.85 1174.95,2078.1 1176.28,2078.36 C1177.62,2078.61 1178.95,2078.86 1180.29,2079.11 C1181.62,2079.36 1182.96,2079.61 1184.29,2079.85 C1185.63,2080.09 1186.96,2080.33 1188.3,2080.57 C1189.63,2080.81 1190.97,2081.05 1192.3,2081.28 C1193.64,2081.51 1194.97,2081.74 1196.31,2081.97 C1197.64,2082.2 1198.97,2082.43 1200.31,2082.65 C1201.64,2082.87 1202.98,2083.09 1204.31,2083.31 C1205.65,2083.53 1206.98,2083.74 1208.32,2083.95 C1209.65,2084.16 1210.99,2084.37 1212.32,2084.58 C1213.66,2084.79 1214.99,2084.99 1216.33,2085.19 C1217.66,2085.39 1219,2085.59 1220.33,2085.78 C1221.67,2085.98 1223,2086.17 1224.34,2086.36 C1225.67,2086.55 1227.01,2086.74 1228.34,2086.92 C1229.68,2087.11 1231.01,2087.29 1232.35,2087.47 C1233.68,2087.65 1235.02,2087.82 1236.35,2087.99 C1237.69,2088.17 1239.02,2088.34 1240.36,2088.5 C1241.69,2088.67 1243.03,2088.84 1244.36,2089 C1245.7,2089.16 1247.03,2089.32 1248.37,2089.47 C1249.7,2089.63 1251.04,2089.78 1252.37,2089.93 C1253.7,2090.08 1255.04,2090.23 1256.37,2090.37 C1257.71,2090.52 1259.04,2090.66 1260.38,2090.8 C1261.71,2090.94 1263.05,2091.08 1264.38,2091.21 C1265.72,2091.34 1267.05,2091.48 1268.39,2091.6 C1269.72,2091.73 1271.06,2091.86 1272.39,2091.99 C1273.73,2092.11 1275.06,2092.23 1276.4,2092.35 C1277.73,2092.47 1279.07,2092.59 1280.4,2092.7 C1281.74,2092.82 1283.07,2092.93 1284.41,2093.04 C1285.74,2093.15 1287.08,2093.26 1288.41,2093.37 C1289.75,2093.48 1291.08,2093.58 1292.42,2093.68 C1293.75,2093.79 1295.09,2093.89 1296.42,2093.99 C1297.76,2094.09 1299.09,2094.18 1300.43,2094.28 C1301.76,2094.37 1303.1,2094.47 1304.43,2094.56 C1305.77,2094.65 1307.1,2094.74 1308.43,2094.83 C1309.77,2094.91 1311.1,2095 1312.44,2095.08 C1313.77,2095.17 1315.11,2095.25 1316.44,2095.33 C1317.78,2095.42 1319.11,2095.5 1320.45,2095.57 C1321.78,2095.65 1323.12,2095.73 1324.45,2095.81 C1325.79,2095.88 1327.12,2095.96 1328.46,2096.03 C1329.79,2096.1 1331.13,2096.17 1332.46,2096.24 C1333.8,2096.31 1335.13,2096.38 1336.47,2096.45 C1337.8,2096.52 1339.14,2096.59 1340.47,2096.65 C1341.81,2096.72 1343.14,2096.78 1344.48,2096.85 C1345.81,2096.91 1347.15,2096.97 1348.48,2097.03 C1349.82,2097.1 1351.15,2097.16 1352.49,2097.22 C1353.82,2097.28 1355.16,2097.34 1356.49,2097.39 C1357.83,2097.45 1359.16,2097.51 1360.5,2097.57 C1361.83,2097.62 1363.16,2097.68 1364.5,2097.74 C1365.83,2097.79 1367.17,2097.85 1368.5,2097.9 C1369.84,2097.95 1371.17,2098.01 1372.51,2098.06 C1373.84,2098.12 1375.18,2098.17 1376.51,2098.22 C1377.85,2098.27 1379.18,2098.32 1380.52,2098.38 C1381.85,2098.43 1383.19,2098.48 1384.52,2098.53 C1385.86,2098.58 1387.19,2098.63 1388.53,2098.68 C1389.86,2098.73 1391.2,2098.78 1392.53,2098.83 C1393.87,2098.89 1395.2,2098.94 1396.54,2098.98 C1397.87,2099.03 1399.21,2099.08 1400.54,2099.13 C1401.88,2099.18 1403.21,2099.23 1404.55,2099.28 C1405.88,2099.33 1407.22,2099.38 1408.55,2099.43 C1409.89,2099.47 1411.22,2099.52 1412.56,2099.57 C1413.89,2099.62 1415.23,2099.67 1416.56,2099.71 C1417.89,2099.76 1419.23,2099.81 1420.56,2099.85 C1421.9,2099.9 1423.23,2099.95 1424.57,2099.99 C1425.9,2100.04 1427.24,2100.09 1428.57,2100.13 C1429.91,2100.18 1431.24,2100.22 1432.58,2100.27 C1433.91,2100.31 1435.25,2100.36 1436.58,2100.4 C1437.92,2100.45 1439.25,2100.49 1440.59,2100.54 C1441.92,2100.58 1443.26,2100.62 1444.59,2100.67 C1445.93,2100.71 1447.26,2100.76 1448.6,2100.8 C1449.93,2100.84 1451.27,2100.89 1452.6,2100.93 C1453.94,2100.97 1455.27,2101.01 1456.61,2101.06 C1457.94,2101.1 1459.28,2101.14 1460.61,2101.18 C1461.95,2101.22 1463.28,2101.26 1464.62,2101.31 C1465.95,2101.35 1467.29,2101.39 1468.62,2101.43 C1469.96,2101.47 1471.29,2101.51 1472.62,2101.55 C1473.96,2101.59 1475.29,2101.63 1476.63,2101.67 C1477.96,2101.71 1479.3,2101.75 1480.63,2101.79 C1481.97,2101.83 1483.3,2101.86 1484.64,2101.9 C1485.97,2101.94 1487.31,2101.98 1488.64,2102.02 C1489.98,2102.06 1491.31,2102.09 1492.65,2102.13 C1493.98,2102.17 1495.32,2102.21 1496.65,2102.24 C1497.99,2102.28 1499.32,2102.32 1500.66,2102.35 C1501.99,2102.39 1503.33,2102.43 1504.66,2102.46 C1506,2102.5 1507.33,2102.53 1508.67,2102.57 C1510,2102.6 1511.34,2102.64 1512.67,2102.67 C1514.01,2102.71 1515.34,2102.74 1516.68,2102.78 C1518.01,2102.81 1519.35,2102.84 1520.68,2102.88 C1522.02,2102.91 1523.35,2102.94 1524.69,2102.98 C1526.02,2103.01 1527.35,2103.04 1528.69,2103.08 C1530.02,2103.11 1531.36,2103.14 1532.69,2103.17 C1534.03,2103.2 1535.36,2103.24 1536.7,2103.27 C1538.03,2103.3 1539.37,2103.33 1540.7,2103.36 C1542.04,2103.39 1543.37,2103.42 1544.71,2103.45 C1546.04,2103.48 1547.38,2103.51 1548.71,2103.54 C1550.05,2103.57 1551.38,2103.6 1552.72,2103.63 C1554.05,2103.66 1555.39,2103.69 1556.72,2103.72 C1558.06,2103.75 1559.39,2103.77 1560.73,2103.8 C1562.06,2103.83 1563.4,2103.86 1564.73,2103.88 C1566.07,2103.91 1567.4,2103.94 1568.74,2103.97 C1570.07,2103.99 1571.41,2104.02 1572.74,2104.04 C1574.08,2104.07 1575.41,2104.1 1576.75,2104.12 C1578.08,2104.15 1579.41,2104.17 1580.75,2104.2 C1582.08,2104.22 1583.42,2104.25 1584.75,2104.27 C1586.09,2104.3 1587.42,2104.32 1588.76,2104.34 C1590.09,2104.37 1591.43,2104.39 1592.76,2104.42 C1594.1,2104.44 1595.43,2104.46 1596.77,2104.48 C1598.1,2104.51 1599.44,2104.53 1600.77,2104.55 C1602.11,2104.57 1603.44,2104.59 1604.78,2104.62 C1606.11,2104.64 1607.45,2104.66 1608.78,2104.68 C1610.12,2104.7 1611.45,2104.72 1612.79,2104.74 C1614.12,2104.76 1615.46,2104.78 1616.79,2104.8 C1618.13,2104.82 1619.46,2104.84 1620.8,2104.86 C1622.13,2104.88 1623.47,2104.9 1624.8,2104.91 C1626.14,2104.93 1627.47,2104.95 1628.81,2104.97 C1630.14,2104.99 1631.48,2105 1632.81,2105.02 C1634.14,2105.04 1635.48,2105.05 1636.81,2105.07 C1638.15,2105.09 1639.48,2105.1 1640.82,2105.12 C1642.15,2105.13 1643.49,2105.15 1644.82,2105.16 C1646.16,2105.18 1647.49,2105.19 1648.83,2105.21 C1650.16,2105.22 1651.5,2105.24 1652.83,2105.25 C1654.17,2105.27 1655.5,2105.28 1656.84,2105.29 C1658.17,2105.31 1659.51,2105.32 1660.84,2105.33 C1662.18,2105.34 1663.51,2105.36 1664.85,2105.37 C1666.18,2105.38 1667.52,2105.39 1668.85,2105.4 C1670.19,2105.42 1671.52,2105.43 1672.86,2105.44 C1674.19,2105.45 1675.53,2105.46 1676.86,2105.47 C1678.2,2105.48 1679.53,2105.49 1680.87,2105.5 C1682.2,2105.51 1683.54,2105.52 1684.87,2105.52 C1686.21,2105.53 1687.54,2105.54 1688.87,2105.55 C1690.21,2105.56 1691.54,2105.57 1692.88,2105.57 C1694.21,2105.58 1695.55,2105.59 1696.88,2105.59 C1698.22,2105.6 1699.55,2105.61 1700.89,2105.61 C1702.22,2105.62 1703.56,2105.63 1704.89,2105.63 C1706.23,2105.64 1707.56,2105.64 1708.9,2105.65 C1710.23,2105.65 1711.57,2105.66 1712.9,2105.66 C1714.24,2105.66 1715.57,2105.67 1716.91,2105.67 C1718.24,2105.67 1719.58,2105.68 1720.91,2105.68 C1722.25,2105.68 1723.58,2105.69 1724.92,2105.69 C1726.25,2105.69 1727.59,2105.69 1728.92,2105.69 C1730.26,2105.69 1731.59,2105.69 1732.93,2105.7 C1734.26,2105.7 1735.6,2105.7 1736.93,2105.7 C1738.27,2105.7 1739.6,2105.7 1740.94,2105.7 C1742.27,2105.7 1743.6,2105.69 1744.94,2105.69 C1746.27,2105.69 1747.61,2105.69 1748.94,2105.69 C1750.28,2105.69 1751.61,2105.68 1752.95,2105.68 C1754.28,2105.68 1755.62,2105.67 1756.95,2105.67 C1758.29,2105.67 1759.62,2105.66 1760.96,2105.66 C1762.29,2105.66 1763.63,2105.65 1764.96,2105.65 C1766.3,2105.64 1767.63,2105.64 1768.97,2105.63 C1770.3,2105.62 1771.64,2105.62 1772.97,2105.61 C1774.31,2105.61 1775.64,2105.6 1776.98,2105.59 C1778.31,2105.59 1779.65,2105.58 1780.98,2105.57 C1782.32,2105.56 1783.65,2105.56 1784.99,2105.55 C1786.32,2105.54 1787.66,2105.53 1788.99,2105.52 C1790.33,2105.51 1791.66,2105.5 1793,2105.49 C1794.33,2105.48 1796.33,2105.47 1797,2105.46" stroke="#000" stroke-width="4.8" fill="none" stroke-linejoin="round"/>
<path d="M330.5,1154.5Q332.1,1165.75 333.3,1178M337.4,1211.5Q338.4,1226.75 339.4,1243M343,1278.3Q345.05,1294.6 346.9,1308.5M350.6,1344.3Q352.15,1360.95 353.1,1373.8M356.8,1409.5Q358.5,1424.65 360.2,1441.2M365.1,1476.3Q366.8,1491.85 368.5,1508M373.5,1542.4Q375.45,1557.8 377.6,1574M383.2,1608.4Q385.15,1623.4 387.3,1640.8M394.1,1676.5Q396.35,1691.05 398.8,1705.4M405.9,1743.3Q408.6,1758.6 411.3,1771.5M420.6,1808.7Q424.3,1824.5 428,1838.3M436.7,1875.5Q441.2,1891.7 446.1,1905.1M459,1941Q465.5,1956.6 474,1969.8M494.3,2008.6Q505.7,2024.45 518.3,2036.5M555.3,2065Q570.05,2073.4 584.6,2078.2M620.5,2088.3Q636.5,2092.3 650.5,2094.3M687,2097.8Q702.5,2098.6 716,2099M752.5,2105.2L782,2105.2M818.3,2105.2L847.8,2105.2M884.1,2105.2L913.6,2105.2M949.9,2105.2L979.4,2105.2M1015.7,2105.2L1045.2,2105.2M1081.5,2105.2L1111,2105.2M1147.3,2105.2L1176.8,2105.2M1213.1,2105.2L1242.6,2105.2M1278.9,2105.2L1308.4,2105.2M1344.7,2105.2L1374.2,2105.2M1410.5,2105.2L1440,2105.2M1476.3,2105.2L1505.8,2105.2" stroke="#000" stroke-width="4.8" fill="none"/>
<path d="M1014.3,783.32 C1014.97,783.59 1016.98,784.44 1018.31,784.92 C1019.65,785.4 1020.99,785.82 1022.33,786.19 C1023.67,786.56 1025.01,786.88 1026.34,787.15 C1027.68,787.42 1029.02,787.65 1030.36,787.83 C1031.7,788.01 1033.03,788.14 1034.37,788.24 C1035.71,788.33 1037.05,788.39 1038.39,788.41 C1039.72,788.43 1041.06,788.41 1042.4,788.36 C1043.74,788.31 1045.08,788.22 1046.42,788.11 C1047.75,787.99 1049.09,787.85 1050.43,787.68 C1051.77,787.52 1053.11,787.32 1054.44,787.1 C1055.78,786.89 1057.12,786.65 1058.46,786.39 C1059.8,786.14 1061.14,785.86 1062.47,785.57 C1063.81,785.28 1065.15,784.98 1066.49,784.66 C1067.83,784.35 1069.16,784.02 1070.5,783.69 C1071.84,783.36 1073.18,783.01 1074.52,782.67 C1075.85,782.33 1077.19,781.98 1078.53,781.63 C1079.87,781.28 1081.21,780.93 1082.55,780.59 C1083.88,780.24 1085.22,779.9 1086.56,779.56 C1087.9,779.22 1089.24,778.89 1090.57,778.55 C1091.91,778.22 1093.25,777.89 1094.59,777.57 C1095.93,777.25 1097.27,776.93 1098.6,776.62 C1099.94,776.3 1101.28,776 1102.62,775.7 C1103.96,775.4 1105.29,775.1 1106.63,774.82 C1107.97,774.53 1109.31,774.25 1110.65,773.98 C1111.98,773.71 1113.32,773.45 1114.66,773.19 C1116,772.94 1117.34,772.69 1118.68,772.46 C1120.01,772.22 1121.35,772 1122.69,771.78 C1124.03,771.57 1125.37,771.36 1126.7,771.17 C1128.04,770.97 1129.38,770.79 1130.72,770.62 C1132.06,770.45 1133.4,770.29 1134.73,770.15 C1136.07,770 1137.41,769.87 1138.75,769.75 C1140.09,769.63 1141.42,769.53 1142.76,769.44 C1144.1,769.35 1145.44,769.27 1146.78,769.21 C1148.11,769.15 1149.45,769.11 1150.79,769.08 C1152.13,769.05 1153.47,769.04 1154.81,769.04 C1156.14,769.05 1157.48,769.07 1158.82,769.1 C1160.16,769.14 1161.5,769.2 1162.83,769.27 C1164.17,769.34 1165.51,769.42 1166.85,769.52 C1168.19,769.62 1169.52,769.74 1170.86,769.86 C1172.2,769.99 1173.54,770.13 1174.88,770.28 C1176.22,770.43 1177.55,770.6 1178.89,770.77 C1180.23,770.94 1181.57,771.13 1182.91,771.32 C1184.24,771.51 1185.58,771.71 1186.92,771.92 C1188.26,772.13 1189.6,772.34 1190.94,772.57 C1192.27,772.79 1193.61,773.02 1194.95,773.25 C1196.29,773.49 1197.63,773.73 1198.96,773.97 C1200.3,774.21 1201.64,774.46 1202.98,774.71 C1204.32,774.96 1205.65,775.21 1206.99,775.46 C1208.33,775.71 1209.67,775.97 1211.01,776.22 C1212.35,776.48 1213.68,776.73 1215.02,776.98 C1216.36,777.24 1217.7,777.49 1219.04,777.74 C1220.37,777.98 1221.71,778.23 1223.05,778.47 C1224.39,778.71 1225.73,778.95 1227.07,779.19 C1228.4,779.42 1229.74,779.65 1231.08,779.87 C1232.42,780.09 1233.76,780.3 1235.09,780.51 C1236.43,780.72 1237.77,780.92 1239.11,781.11 C1240.45,781.29 1241.78,781.48 1243.12,781.65 C1244.46,781.82 1245.8,781.98 1247.14,782.13 C1248.48,782.27 1249.81,782.41 1251.15,782.53 C1252.49,782.66 1253.83,782.77 1255.17,782.86 C1256.5,782.96 1257.84,783.04 1259.18,783.12 C1260.52,783.19 1261.86,783.25 1263.2,783.29 C1264.53,783.34 1265.87,783.38 1267.21,783.4 C1268.55,783.43 1269.89,783.44 1271.22,783.44 C1272.56,783.45 1273.9,783.44 1275.24,783.43 C1276.58,783.42 1277.91,783.39 1279.25,783.36 C1280.59,783.33 1281.93,783.29 1283.27,783.24 C1284.61,783.2 1285.94,783.14 1287.28,783.08 C1288.62,783.02 1289.96,782.96 1291.3,782.89 C1292.63,782.81 1293.97,782.74 1295.31,782.66 C1296.65,782.57 1297.99,782.49 1299.33,782.4 C1300.66,782.31 1302,782.21 1303.34,782.12 C1304.68,782.02 1306.02,781.92 1307.35,781.82 C1308.69,781.72 1310.03,781.62 1311.37,781.52 C1312.71,781.41 1314.04,781.31 1315.38,781.2 C1316.72,781.1 1318.06,780.99 1319.4,780.89 C1320.74,780.78 1322.07,780.68 1323.41,780.57 C1324.75,780.47 1326.09,780.36 1327.43,780.26 C1328.76,780.15 1330.1,780.05 1331.44,779.94 C1332.78,779.84 1334.12,779.73 1335.46,779.63 C1336.79,779.52 1338.13,779.42 1339.47,779.31 C1340.81,779.21 1342.15,779.1 1343.48,779 C1344.82,778.89 1346.16,778.78 1347.5,778.68 C1348.84,778.57 1350.17,778.46 1351.51,778.36 C1352.85,778.25 1354.19,778.14 1355.53,778.04 C1356.87,777.93 1358.2,777.82 1359.54,777.71 C1360.88,777.6 1362.22,777.49 1363.56,777.38 C1364.89,777.27 1366.23,777.16 1367.57,777.05 C1368.91,776.94 1370.25,776.83 1371.59,776.72 C1372.92,776.61 1374.26,776.5 1375.6,776.38 C1376.94,776.27 1378.28,776.16 1379.61,776.04 C1380.95,775.93 1382.29,775.81 1383.63,775.7 C1384.97,775.58 1386.3,775.47 1387.64,775.35 C1388.98,775.23 1390.32,775.11 1391.66,775 C1393,774.88 1394.33,774.76 1395.67,774.64 C1397.01,774.52 1398.35,774.4 1399.69,774.27 C1401.02,774.15 1402.36,774.03 1403.7,773.9 C1405.04,773.78 1406.38,773.66 1407.71,773.53 C1409.05,773.4 1410.39,773.28 1411.73,773.15 C1413.07,773.02 1414.41,772.89 1415.74,772.76 C1417.08,772.63 1418.42,772.5 1419.76,772.37 C1421.1,772.23 1422.43,772.1 1423.77,771.96 C1425.11,771.83 1426.45,771.69 1427.79,771.55 C1429.13,771.42 1430.46,771.28 1431.8,771.14 C1433.14,771 1434.48,770.86 1435.82,770.71 C1437.15,770.57 1438.49,770.43 1439.83,770.28 C1441.17,770.14 1442.51,769.99 1443.84,769.84 C1445.18,769.69 1446.52,769.54 1447.86,769.39 C1449.2,769.24 1450.54,769.09 1451.87,768.93 C1453.21,768.78 1454.55,768.62 1455.89,768.46 C1457.23,768.3 1458.56,768.15 1459.9,767.98 C1461.24,767.82 1462.58,767.66 1463.92,767.5 C1465.26,767.33 1466.59,767.17 1467.93,767 C1469.27,766.83 1470.61,766.66 1471.95,766.49 C1473.28,766.32 1474.62,766.14 1475.96,765.97 C1477.3,765.79 1478.64,765.62 1479.97,765.44 C1481.31,765.26 1482.65,765.08 1483.99,764.89 C1485.33,764.71 1486.67,764.53 1488,764.34 C1489.34,764.15 1490.68,763.96 1492.02,763.77 C1493.36,763.58 1494.69,763.39 1496.03,763.19 C1497.37,763 1498.71,762.8 1500.05,762.6 C1501.39,762.4 1502.72,762.2 1504.06,762 C1505.4,761.79 1506.74,761.59 1508.08,761.38 C1509.41,761.17 1510.75,760.96 1512.09,760.75 C1513.43,760.54 1514.77,760.32 1516.1,760.1 C1517.44,759.89 1518.78,759.67 1520.12,759.44 C1521.46,759.22 1522.8,759 1524.13,758.77 C1525.47,758.54 1526.81,758.31 1528.15,758.08 C1529.49,757.85 1530.82,757.62 1532.16,757.38 C1533.5,757.14 1534.84,756.9 1536.18,756.66 C1537.52,756.42 1538.85,756.17 1540.19,755.93 C1541.53,755.68 1542.87,755.43 1544.21,755.18 C1545.54,754.92 1546.88,754.67 1548.22,754.41 C1549.56,754.15 1550.9,753.89 1552.23,753.63 C1553.57,753.36 1554.91,753.1 1556.25,752.83 C1557.59,752.56 1558.93,752.28 1560.26,752.01 C1561.6,751.73 1562.94,751.46 1564.28,751.17 C1565.62,750.89 1566.95,750.61 1568.29,750.32 C1569.63,750.03 1570.97,749.74 1572.31,749.44 C1573.65,749.14 1574.98,748.84 1576.32,748.54 C1577.66,748.23 1579,747.92 1580.34,747.61 C1581.67,747.29 1583.01,746.97 1584.35,746.65 C1585.69,746.32 1587.03,745.99 1588.36,745.66 C1589.7,745.32 1591.04,744.98 1592.38,744.63 C1593.72,744.29 1595.06,743.93 1596.39,743.57 C1597.73,743.21 1599.07,742.85 1600.41,742.47 C1601.75,742.1 1603.08,741.72 1604.42,741.33 C1605.76,740.95 1607.1,740.55 1608.44,740.15 C1609.78,739.75 1611.11,739.34 1612.45,738.92 C1613.79,738.5 1615.13,738.08 1616.47,737.64 C1617.8,737.21 1619.14,736.77 1620.48,736.32 C1621.82,735.87 1623.16,735.41 1624.49,734.94 C1625.83,734.47 1627.17,733.99 1628.51,733.5 C1629.85,733.02 1631.19,732.52 1632.52,732.01 C1633.86,731.51 1635.2,730.99 1636.54,730.47 C1637.88,729.94 1639.21,729.4 1640.55,728.86 C1641.89,728.31 1643.23,727.75 1644.57,727.18 C1645.9,726.61 1647.24,726.03 1648.58,725.44 C1649.92,724.85 1651.26,724.25 1652.6,723.63 C1653.93,723.02 1655.27,722.39 1656.61,721.75 C1657.95,721.12 1659.29,720.46 1660.62,719.8 C1661.96,719.14 1663.3,718.46 1664.64,717.78 C1665.98,717.09 1667.32,716.39 1668.65,715.67 C1669.99,714.96 1671.33,714.23 1672.67,713.49 C1674.01,712.75 1675.34,711.99 1676.68,711.22 C1678.02,710.45 1679.36,709.67 1680.7,708.87 C1682.03,708.07 1683.37,707.26 1684.71,706.44 C1686.05,705.61 1687.39,704.77 1688.73,703.91 C1690.06,703.05 1691.4,702.18 1692.74,701.29 C1694.08,700.41 1695.42,699.5 1696.75,698.58 C1698.09,697.66 1699.43,696.73 1700.77,695.78 C1702.11,694.83 1703.45,693.86 1704.78,692.88 C1706.12,691.89 1707.46,690.89 1708.8,689.87 C1710.14,688.85 1711.47,687.82 1712.81,686.76 C1714.15,685.7 1715.49,684.62 1716.83,683.52 C1718.16,682.41 1719.5,681.29 1720.84,680.12 C1722.18,678.96 1723.52,677.78 1724.86,676.55 C1726.19,675.33 1727.53,674.08 1728.87,672.78 C1730.21,671.49 1731.55,670.16 1732.88,668.79 C1734.22,667.42 1735.56,666.01 1736.9,664.56 C1738.24,663.1 1739.58,661.6 1740.91,660.05 C1742.25,658.5 1743.59,656.91 1744.93,655.26 C1746.27,653.61 1747.6,651.91 1748.94,650.15 C1750.28,648.39 1751.62,646.57 1752.96,644.7 C1754.29,642.82 1755.63,640.89 1756.97,638.89 C1758.31,636.89 1759.65,634.83 1760.99,632.7 C1762.32,630.57 1764.33,627.2 1765,626.1" stroke="#000" stroke-width="4.5" fill="none" stroke-linejoin="round"/>
<path d="M846.8,1793.53 C847.47,1793.4 849.47,1793.04 850.81,1792.74 C852.15,1792.45 853.49,1792.13 854.82,1791.77 C856.16,1791.42 857.5,1791.04 858.83,1790.63 C860.17,1790.22 861.51,1789.78 862.84,1789.31 C864.18,1788.85 865.52,1788.36 866.86,1787.84 C868.19,1787.33 869.53,1786.79 870.87,1786.23 C872.2,1785.66 873.54,1785.07 874.88,1784.47 C876.22,1783.86 877.55,1783.23 878.89,1782.57 C880.23,1781.92 881.56,1781.25 882.9,1780.56 C884.24,1779.87 885.58,1779.16 886.91,1778.43 C888.25,1777.7 889.59,1776.96 890.92,1776.19 C892.26,1775.43 893.6,1774.65 894.93,1773.86 C896.27,1773.07 897.61,1772.26 898.95,1771.44 C900.28,1770.62 901.62,1769.78 902.96,1768.94 C904.29,1768.09 905.63,1767.23 906.97,1766.37 C908.31,1765.5 909.64,1764.62 910.98,1763.73 C912.32,1762.84 913.65,1761.94 914.99,1761.04 C916.33,1760.13 917.66,1759.22 919,1758.3 C920.34,1757.38 921.68,1756.46 923.01,1755.53 C924.35,1754.6 925.69,1753.66 927.02,1752.73 C928.36,1751.79 929.7,1750.85 931.04,1749.91 C932.37,1748.96 933.71,1748.02 935.05,1747.07 C936.38,1746.13 937.72,1745.18 939.06,1744.24 C940.39,1743.29 941.73,1742.35 943.07,1741.41 C944.41,1740.46 945.74,1739.52 947.08,1738.58 C948.42,1737.64 949.75,1736.7 951.09,1735.76 C952.43,1734.82 953.77,1733.88 955.1,1732.95 C956.44,1732.01 957.78,1731.07 959.11,1730.14 C960.45,1729.2 961.79,1728.27 963.13,1727.33 C964.46,1726.4 965.8,1725.47 967.14,1724.54 C968.47,1723.61 969.81,1722.68 971.15,1721.75 C972.48,1720.82 973.82,1719.89 975.16,1718.96 C976.5,1718.04 977.83,1717.11 979.17,1716.18 C980.51,1715.26 981.84,1714.34 983.18,1713.41 C984.52,1712.49 985.86,1711.57 987.19,1710.65 C988.53,1709.73 989.87,1708.81 991.2,1707.89 C992.54,1706.97 993.88,1706.06 995.21,1705.14 C996.55,1704.22 997.89,1703.31 999.23,1702.4 C1000.56,1701.48 1001.9,1700.57 1003.24,1699.66 C1004.57,1698.75 1005.91,1697.84 1007.25,1696.93 C1008.59,1696.02 1009.92,1695.11 1011.26,1694.21 C1012.6,1693.3 1013.93,1692.4 1015.27,1691.49 C1016.61,1690.59 1017.94,1689.69 1019.28,1688.79 C1020.62,1687.89 1021.96,1686.99 1023.29,1686.09 C1024.63,1685.19 1025.97,1684.29 1027.3,1683.4 C1028.64,1682.5 1029.98,1681.61 1031.32,1680.71 C1032.65,1679.82 1033.99,1678.93 1035.33,1678.04 C1036.66,1677.15 1038,1676.26 1039.34,1675.37 C1040.68,1674.49 1042.01,1673.6 1043.35,1672.71 C1044.69,1671.83 1046.02,1670.95 1047.36,1670.07 C1048.7,1669.18 1050.03,1668.3 1051.37,1667.42 C1052.71,1666.55 1054.05,1665.67 1055.38,1664.79 C1056.72,1663.92 1058.06,1663.04 1059.39,1662.17 C1060.73,1661.3 1062.07,1660.43 1063.41,1659.56 C1064.74,1658.69 1066.08,1657.82 1067.42,1656.95 C1068.75,1656.08 1070.09,1655.22 1071.43,1654.35 C1072.76,1653.49 1074.1,1652.63 1075.44,1651.77 C1076.78,1650.9 1078.11,1650.05 1079.45,1649.19 C1080.79,1648.33 1082.12,1647.47 1083.46,1646.62 C1084.8,1645.76 1086.14,1644.91 1087.47,1644.06 C1088.81,1643.2 1090.15,1642.35 1091.48,1641.5 C1092.82,1640.65 1094.16,1639.81 1095.5,1638.96 C1096.83,1638.11 1098.17,1637.27 1099.51,1636.42 C1100.84,1635.58 1102.18,1634.74 1103.52,1633.9 C1104.85,1633.06 1106.19,1632.22 1107.53,1631.38 C1108.87,1630.54 1110.2,1629.71 1111.54,1628.87 C1112.88,1628.04 1114.21,1627.2 1115.55,1626.37 C1116.89,1625.54 1118.23,1624.71 1119.56,1623.88 C1120.9,1623.05 1122.24,1622.22 1123.57,1621.4 C1124.91,1620.57 1126.25,1619.74 1127.58,1618.92 C1128.92,1618.1 1130.26,1617.28 1131.6,1616.46 C1132.93,1615.64 1134.27,1614.82 1135.61,1614 C1136.94,1613.18 1138.28,1612.36 1139.62,1611.55 C1140.96,1610.74 1142.29,1609.92 1143.63,1609.11 C1144.97,1608.3 1146.3,1607.49 1147.64,1606.68 C1148.98,1605.87 1150.31,1605.06 1151.65,1604.26 C1152.99,1603.45 1154.33,1602.64 1155.66,1601.84 C1157,1601.04 1158.34,1600.24 1159.67,1599.44 C1161.01,1598.63 1162.35,1597.84 1163.69,1597.04 C1165.02,1596.24 1166.36,1595.44 1167.7,1594.65 C1169.03,1593.85 1170.37,1593.06 1171.71,1592.27 C1173.05,1591.48 1174.38,1590.69 1175.72,1589.9 C1177.06,1589.11 1178.39,1588.32 1179.73,1587.53 C1181.07,1586.75 1182.4,1585.96 1183.74,1585.18 C1185.08,1584.4 1186.42,1583.61 1187.75,1582.83 C1189.09,1582.05 1190.43,1581.27 1191.76,1580.49 C1193.1,1579.72 1194.44,1578.94 1195.78,1578.16 C1197.11,1577.39 1198.45,1576.62 1199.79,1575.84 C1201.12,1575.07 1202.46,1574.3 1203.8,1573.53 C1205.13,1572.76 1206.47,1571.99 1207.81,1571.23 C1209.15,1570.46 1210.48,1569.69 1211.82,1568.93 C1213.16,1568.17 1214.49,1567.4 1215.83,1566.64 C1217.17,1565.88 1218.51,1565.12 1219.84,1564.36 C1221.18,1563.6 1222.52,1562.85 1223.85,1562.09 C1225.19,1561.34 1226.53,1560.58 1227.87,1559.83 C1229.2,1559.08 1230.54,1558.32 1231.88,1557.57 C1233.21,1556.82 1234.55,1556.08 1235.89,1555.33 C1237.22,1554.58 1238.56,1553.84 1239.9,1553.09 C1241.24,1552.35 1242.57,1551.6 1243.91,1550.86 C1245.25,1550.12 1246.58,1549.38 1247.92,1548.64 C1249.26,1547.9 1250.6,1547.16 1251.93,1546.43 C1253.27,1545.69 1254.61,1544.95 1255.94,1544.22 C1257.28,1543.49 1258.62,1542.76 1259.95,1542.02 C1261.29,1541.29 1262.63,1540.56 1263.97,1539.84 C1265.3,1539.11 1266.64,1538.38 1267.98,1537.65 C1269.31,1536.93 1270.65,1536.21 1271.99,1535.48 C1273.33,1534.76 1274.66,1534.04 1276,1533.32 C1277.34,1532.6 1278.67,1531.88 1280.01,1531.16 C1281.35,1530.45 1282.68,1529.73 1284.02,1529.01 C1285.36,1528.3 1286.7,1527.59 1288.03,1526.87 C1289.37,1526.16 1290.71,1525.45 1292.04,1524.74 C1293.38,1524.03 1294.72,1523.33 1296.06,1522.62 C1297.39,1521.91 1298.73,1521.21 1300.07,1520.5 C1301.4,1519.8 1302.74,1519.1 1304.08,1518.4 C1305.42,1517.7 1306.75,1517 1308.09,1516.3 C1309.43,1515.6 1310.76,1514.9 1312.1,1514.21 C1313.44,1513.51 1314.77,1512.82 1316.11,1512.12 C1317.45,1511.43 1318.79,1510.74 1320.12,1510.05 C1321.46,1509.36 1322.8,1508.67 1324.13,1507.98 C1325.47,1507.29 1326.81,1506.6 1328.15,1505.92 C1329.48,1505.23 1330.82,1504.55 1332.16,1503.87 C1333.49,1503.19 1334.83,1502.5 1336.17,1501.82 C1337.5,1501.14 1338.84,1500.47 1340.18,1499.79 C1341.52,1499.11 1342.85,1498.44 1344.19,1497.76 C1345.53,1497.09 1346.86,1496.41 1348.2,1495.74 C1349.54,1495.07 1350.88,1494.4 1352.21,1493.73 C1353.55,1493.06 1354.89,1492.39 1356.22,1491.73 C1357.56,1491.06 1358.9,1490.4 1360.23,1489.73 C1361.57,1489.07 1362.91,1488.41 1364.25,1487.75 C1365.58,1487.09 1366.92,1486.43 1368.26,1485.77 C1369.59,1485.12 1370.93,1484.46 1372.27,1483.81 C1373.61,1483.15 1374.94,1482.5 1376.28,1481.85 C1377.62,1481.2 1378.95,1480.55 1380.29,1479.91 C1381.63,1479.26 1382.97,1478.61 1384.3,1477.97 C1385.64,1477.33 1386.98,1476.69 1388.31,1476.05 C1389.65,1475.41 1390.99,1474.77 1392.32,1474.13 C1393.66,1473.5 1395,1472.86 1396.34,1472.23 C1397.67,1471.6 1399.01,1470.97 1400.35,1470.34 C1401.68,1469.71 1403.02,1469.08 1404.36,1468.46 C1405.7,1467.84 1407.03,1467.21 1408.37,1466.59 C1409.71,1465.97 1411.04,1465.35 1412.38,1464.74 C1413.72,1464.12 1415.05,1463.51 1416.39,1462.89 C1417.73,1462.28 1419.07,1461.67 1420.4,1461.06 C1421.74,1460.46 1423.08,1459.85 1424.41,1459.25 C1425.75,1458.64 1427.09,1458.04 1428.43,1457.44 C1429.76,1456.85 1431.1,1456.25 1432.44,1455.65 C1433.77,1455.06 1435.11,1454.47 1436.45,1453.88 C1437.79,1453.29 1439.12,1452.7 1440.46,1452.12 C1441.8,1451.53 1443.13,1450.95 1444.47,1450.37 C1445.81,1449.79 1447.14,1449.21 1448.48,1448.64 C1449.82,1448.06 1451.16,1447.49 1452.49,1446.92 C1453.83,1446.35 1455.17,1445.78 1456.5,1445.22 C1457.84,1444.65 1459.18,1444.09 1460.52,1443.53 C1461.85,1442.97 1463.19,1442.41 1464.53,1441.86 C1465.86,1441.3 1467.2,1440.75 1468.54,1440.2 C1469.87,1439.65 1471.21,1439.1 1472.55,1438.56 C1473.89,1438.02 1475.22,1437.48 1476.56,1436.94 C1477.9,1436.4 1479.23,1435.86 1480.57,1435.33 C1481.91,1434.8 1483.25,1434.26 1484.58,1433.73 C1485.92,1433.2 1487.26,1432.67 1488.59,1432.14 C1489.93,1431.61 1491.27,1431.08 1492.6,1430.55 C1493.94,1430.02 1495.28,1429.48 1496.62,1428.95 C1497.95,1428.42 1499.29,1427.88 1500.63,1427.34 C1501.96,1426.8 1503.3,1426.26 1504.64,1425.71 C1505.98,1425.17 1507.31,1424.62 1508.65,1424.06 C1509.99,1423.51 1511.32,1422.95 1512.66,1422.39 C1514,1421.82 1515.34,1421.25 1516.67,1420.68 C1518.01,1420.1 1519.35,1419.52 1520.68,1418.92 C1522.02,1418.33 1523.36,1417.74 1524.69,1417.13 C1526.03,1416.52 1527.37,1415.91 1528.71,1415.28 C1530.04,1414.66 1531.38,1414.03 1532.72,1413.38 C1534.05,1412.74 1535.39,1412.09 1536.73,1411.42 C1538.07,1410.75 1539.4,1410.08 1540.74,1409.39 C1542.08,1408.7 1543.41,1408 1544.75,1407.29 C1546.09,1406.58 1547.42,1405.85 1548.76,1405.11 C1550.1,1404.37 1551.44,1403.61 1552.77,1402.85 C1554.11,1402.08 1555.45,1401.29 1556.78,1400.49 C1558.12,1399.69 1559.46,1398.88 1560.8,1398.05 C1562.13,1397.21 1563.47,1396.37 1564.81,1395.5 C1566.14,1394.63 1567.48,1393.75 1568.82,1392.85 C1570.16,1391.94 1571.49,1391.02 1572.83,1390.08 C1574.17,1389.14 1575.5,1388.18 1576.84,1387.2 C1578.18,1386.22 1579.51,1385.22 1580.85,1384.2 C1582.19,1383.17 1583.53,1382.13 1584.86,1381.07 C1586.2,1380 1587.54,1378.91 1588.87,1377.8 C1590.21,1376.69 1591.55,1375.56 1592.89,1374.4 C1594.22,1373.24 1595.56,1372.06 1596.9,1370.85 C1598.23,1369.64 1599.57,1368.41 1600.91,1367.15 C1602.24,1365.89 1603.58,1364.61 1604.92,1363.3 C1606.26,1361.99 1607.59,1360.65 1608.93,1359.29 C1610.27,1357.93 1611.6,1356.55 1612.94,1355.14 C1614.28,1353.74 1615.62,1352.31 1616.95,1350.86 C1618.29,1349.41 1619.63,1347.94 1620.96,1346.46 C1622.3,1344.97 1623.64,1343.46 1624.97,1341.94 C1626.31,1340.42 1627.65,1338.88 1628.99,1337.32 C1630.32,1335.77 1631.66,1334.2 1633,1332.61 C1634.33,1331.03 1635.67,1329.43 1637.01,1327.82 C1638.35,1326.21 1639.68,1324.59 1641.02,1322.95 C1642.36,1321.32 1643.69,1319.68 1645.03,1318.03 C1646.37,1316.38 1647.71,1314.72 1649.04,1313.05 C1650.38,1311.39 1651.72,1309.71 1653.05,1308.04 C1654.39,1306.36 1655.73,1304.67 1657.06,1302.99 C1658.4,1301.3 1659.74,1299.61 1661.08,1297.92 C1662.41,1296.23 1663.75,1294.53 1665.09,1292.84 C1666.42,1291.15 1667.76,1289.45 1669.1,1287.76 C1670.44,1286.07 1671.77,1284.38 1673.11,1282.69 C1674.45,1281.01 1675.78,1279.32 1677.12,1277.65 C1678.46,1275.97 1679.79,1274.29 1681.13,1272.63 C1682.47,1270.96 1683.81,1269.3 1685.14,1267.65 C1686.48,1266 1687.82,1264.36 1689.15,1262.73 C1690.49,1261.09 1691.83,1259.47 1693.17,1257.86 C1694.5,1256.25 1695.84,1254.65 1697.18,1253.07 C1698.51,1251.48 1699.85,1249.91 1701.19,1248.36 C1702.52,1246.8 1703.86,1245.26 1705.2,1243.74 C1706.54,1242.21 1707.87,1240.7 1709.21,1239.22 C1710.55,1237.73 1711.88,1236.26 1713.22,1234.81 C1714.56,1233.36 1715.9,1231.93 1717.23,1230.53 C1718.57,1229.12 1719.91,1227.74 1721.24,1226.38 C1722.58,1225.02 1723.92,1223.68 1725.26,1222.37 C1726.59,1221.06 1727.93,1219.77 1729.27,1218.52 C1730.6,1217.26 1731.94,1216.03 1733.28,1214.82 C1734.61,1213.62 1735.95,1212.45 1737.29,1211.31 C1738.63,1210.16 1740.63,1208.53 1741.3,1207.97" stroke="#000" stroke-width="4.5" fill="none" stroke-linejoin="round"/>
<path d="M847,1317L874,1317M910.5,1317L939,1317M974,1317L1003,1317M1037.5,1317L1067,1317M1102,1317L1132,1317M1166.5,1317L1195.5,1317M1231.5,1317L1260.5,1317M1296.5,1317L1325.5,1317M1361.5,1317L1390,1317M1426.5,1317L1454.5,1317M1492.5,1317L1531.5,1317M1567.5,1317L1595.5,1317M1633.5,1317L1660,1317M1698.5,1317L1725.5,1317" stroke="#000" stroke-width="5.5" fill="none"/>
<path d="M397,233H427M463,233H493M529,233H554" stroke="#000" stroke-width="5" fill="none"/>
<path d="M397,316H554" stroke="#000" stroke-width="5" fill="none"/>
<text transform="translate(281.5,96.1) scale(1,1.04)" font-size="72" text-anchor="end">0</text>
<text transform="translate(281.5,276.1) scale(1,1.04)" font-size="72" text-anchor="end">-1</text>
<text transform="translate(281.5,456.1) scale(1,1.04)" font-size="72" text-anchor="end">-2</text>
<text transform="translate(281.5,636.1) scale(1,1.04)" font-size="72" text-anchor="end">-3</text>
<text transform="translate(281.5,816.1) scale(1,1.04)" font-size="72" text-anchor="end">-4</text>
<text transform="translate(281.5,996.1) scale(1,1.04)" font-size="72" text-anchor="end">-5</text>
<text transform="translate(283,2125.9) scale(1,1.04)" font-size="56" text-anchor="end">0</text>
<text transform="translate(283,1970.85) scale(1,1.04)" font-size="56" text-anchor="end">5</text>
<text transform="translate(283,1815.8) scale(1,1.04)" font-size="56" text-anchor="end">10</text>
<text transform="translate(283,1660.75) scale(1,1.04)" font-size="56" text-anchor="end">15</text>
<text transform="translate(283,1505.7) scale(1,1.04)" font-size="56" text-anchor="end">20</text>
<text transform="translate(283,1350.65) scale(1,1.04)" font-size="56" text-anchor="end">25</text>
<text transform="translate(283,1195.6) scale(1,1.04)" font-size="56" text-anchor="end">30</text>
<text transform="translate(560.9,2201) scale(1,1.04)" font-size="73" text-anchor="middle">0.2</text>
<text transform="translate(869.7,2201) scale(1,1.04)" font-size="73" text-anchor="middle">0.4</text>
<text transform="translate(1178.5,2201) scale(1,1.04)" font-size="73" text-anchor="middle">0.6</text>
<text transform="translate(1487.3,2201) scale(1,1.04)" font-size="73" text-anchor="middle">0.8</text>
<text transform="translate(1796.1,2201) scale(1,1.04)" font-size="73" text-anchor="middle">1.0</text>
<text transform="translate(837,2321) scale(1,1.04) skewX(-16.5)" font-size="86">E</text>
<text transform="translate(1340.5,2321) scale(1,1.04)" font-size="86.3" text-anchor="end">vs RHE / V</text>
<text transform="translate(127.5,846) rotate(-90) scale(0.7,1.04) skewX(-20)" font-size="88">j</text>
<text transform="translate(160,820.5) rotate(-90) scale(1,1.04)" font-size="50" letter-spacing="0.4">disk</text>
<text transform="translate(127.5,707) rotate(-90) scale(1,1.04)" font-size="88">/ mA<tspan dx='-1'> cm</tspan></text>
<text transform="translate(79.5,388) rotate(-90) scale(1,1.04)" font-size="52">-2</text>
<text transform="translate(143.5,1698.5) rotate(-90) scale(0.65,1.04) skewX(-25)" font-size="88">I</text>
<text transform="translate(176,1683.5) rotate(-90) scale(1,1.04)" font-size="51" letter-spacing="1.4">ring</text>
<text transform="translate(143.5,1570.5) rotate(-90) scale(1,1.04)" font-size="88">/</text>
<text transform="translate(143.5,1527) rotate(-90) scale(1,1.04)" font-size="88">&#956;A</text>
<text transform="translate(569.5,256.5) scale(1,1.04)" font-size="68">rGO+CNT(2:1)</text>
<text transform="translate(569.5,339.6) scale(1,1.04)" font-size="68">Ir/CNT</text>
<text transform="translate(994.5,926.3) scale(1,1.04)" font-size="54" text-anchor="end">0</text>
<text transform="translate(994.5,818.3) scale(1,1.04)" font-size="54" text-anchor="end">2</text>
<text transform="translate(994.5,710.3) scale(1,1.04)" font-size="54" text-anchor="end">4</text>
<text transform="translate(994.5,602.3) scale(1,1.04)" font-size="54" text-anchor="end">6</text>
<text transform="translate(994.5,494.3) scale(1,1.04)" font-size="54" text-anchor="end">8</text>
<text transform="translate(1078.68,964.5) scale(1,1.04)" font-size="54" text-anchor="middle">0.1</text>
<text transform="translate(1203.86,964.5) scale(1,1.04)" font-size="54" text-anchor="middle">0.2</text>
<text transform="translate(1329.04,964.5) scale(1,1.04)" font-size="54" text-anchor="middle">0.3</text>
<text transform="translate(1454.22,964.5) scale(1,1.04)" font-size="54" text-anchor="middle">0.4</text>
<text transform="translate(1579.4,964.5) scale(1,1.04)" font-size="54" text-anchor="middle">0.5</text>
<text transform="translate(1704.58,964.5) scale(1,1.04)" font-size="54" text-anchor="middle">0.6</text>
<text transform="translate(1236,1027.5) scale(1,1.04) skewX(-16.5)" font-size="59">E</text>
<text transform="translate(1586.5,1027.5) scale(1,1.04)" font-size="59.8" text-anchor="end">vs RHE / V</text>
<text transform="translate(915,829) rotate(-90) scale(1,1.04)" font-size="58">X</text>
<text transform="translate(937.5,787) rotate(-90) scale(1,1.04)" font-size="35">H</text>
<text transform="translate(952.5,763) rotate(-90) scale(1,1.04)" font-size="22">2</text>
<text transform="translate(937.5,750) rotate(-90) scale(1,1.04)" font-size="35">O</text>
<text transform="translate(952.5,723) rotate(-90) scale(1,1.04)" font-size="22">2</text>
<text transform="translate(915,692) rotate(-90) scale(1,1.04)" font-size="58">(%)</text>
<text transform="translate(823.5,1334.3) scale(1,1.04)" font-size="65" text-anchor="end">0.0</text>
<text transform="translate(823.5,1472.3) scale(1,1.04)" font-size="65" text-anchor="end">-0.4</text>
<text transform="translate(823.5,1610.3) scale(1,1.04)" font-size="65" text-anchor="end">-0.8</text>
<text transform="translate(823.5,1748.3) scale(1,1.04)" font-size="65" text-anchor="end">-1.2</text>
<text transform="translate(988.52,1885.5) scale(1,1.04)" font-size="65" text-anchor="middle">0.2</text>
<text transform="translate(1176.64,1885.5) scale(1,1.04)" font-size="65" text-anchor="middle">0.4</text>
<text transform="translate(1364.76,1885.5) scale(1,1.04)" font-size="65" text-anchor="middle">0.6</text>
<text transform="translate(1552.88,1885.5) scale(1,1.04)" font-size="65" text-anchor="middle">0.8</text>
<text transform="translate(1741,1885.5) scale(1,1.04)" font-size="65" text-anchor="middle">1.0</text>
<text transform="translate(1126,1955) scale(1,1.04) skewX(-16.5)" font-size="57">E</text>
<text transform="translate(1460,1955) scale(1,1.04)" font-size="57" text-anchor="end">vs RHE / V</text>
<text transform="translate(694.5,1692) rotate(-90) scale(0.7,1.04) skewX(-20)" font-size="60">j</text>
<text transform="translate(694.5,1655) rotate(-90) scale(1,1.04)" font-size="60">/ mA cm</text>
<text transform="translate(662,1441) rotate(-90) scale(1,1.04)" font-size="36">-2</text>
<text transform="translate(1748.5,226.5) scale(1,1.04)" font-size="108" text-anchor="end" font-weight="bold">A</text>
<text transform="translate(1751.3,2056.7) scale(1,1.04)" font-size="108" text-anchor="end" font-weight="bold">B</text>
<text transform="translate(1713.6,552) scale(1,1.04)" font-size="103" text-anchor="end" font-weight="bold">C</text>
<text transform="translate(1701.5,1741) scale(1,1.04)" font-size="105" text-anchor="end" font-weight="bold">D</text>
</svg>
</body></html>
